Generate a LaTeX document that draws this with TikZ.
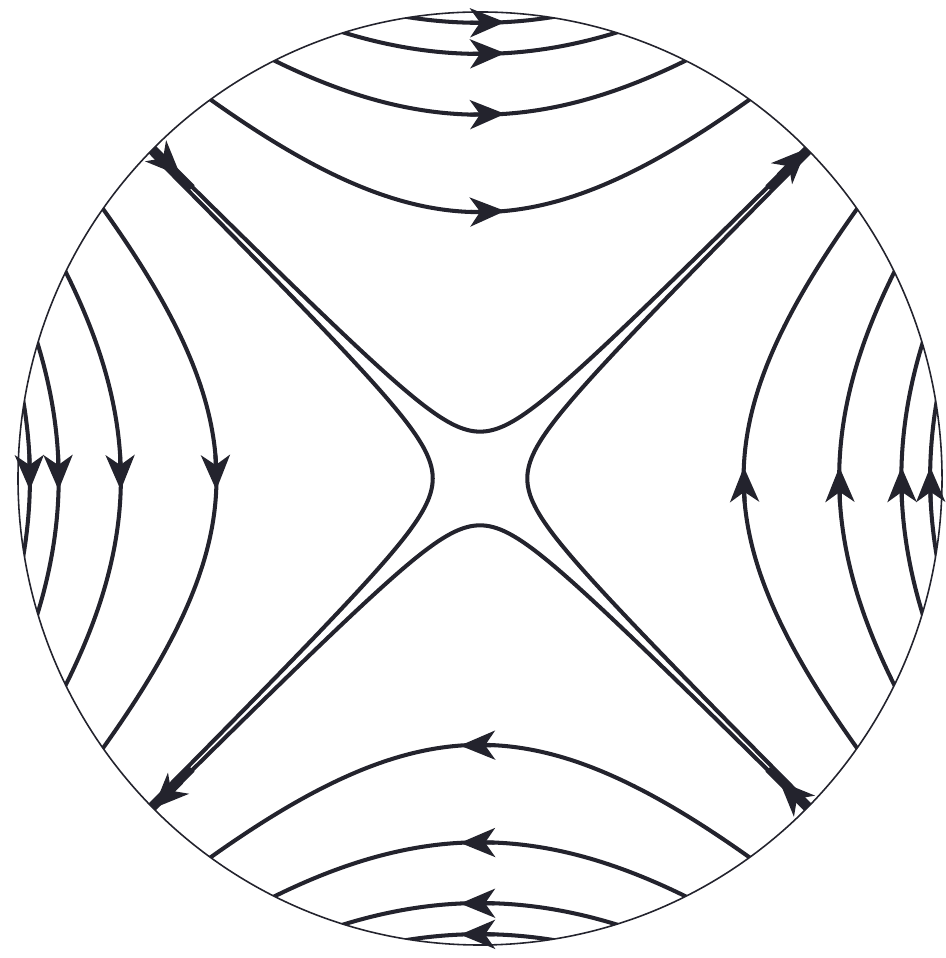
\documentclass[tikz,border=0pt]{standalone}
\usetikzlibrary{arrows.meta}
\definecolor{ink}{RGB}{35,35,45}
\begin{document}
\begin{tikzpicture}[x=4.64cm,y=4.64cm,
  flow/.style={line width=1.15pt, draw=ink, line cap=round},
  rim/.style={line width=0.45pt, draw=ink},
  arr/.style={flow, -{Stealth[length=0.35cm,width=0.29cm,inset=0.1cm]}, fill=ink},
  darr/.style={arr, line width=2pt, line cap=butt}]
\useasboundingbox (-1.0345,-1.0334) rectangle (1.0022,1.0312);
\draw[rim] (0,0) ellipse [x radius=0.9957, y radius=1.0054];
\begin{scope}
  \clip (0,0) ellipse [x radius=0.9957, y radius=1.0054];
  % top and bottom families
  \foreach \c in {0.101,0.574,0.784,0.915,0.982} {
    \pgfmathsetmacro\w{sqrt((1.07-\c*\c)/2)}
    \draw[flow] plot[domain=-\w:\w, samples=140, smooth] (\x,{sqrt(\c*\c+\x*\x)});
    \draw[flow] plot[domain=-\w:\w, samples=140, smooth] (\x,{-sqrt(\c*\c+\x*\x)});
  }
  % left and right families
  \foreach \c in {0.102,0.568,0.774,0.908,0.970} {
    \pgfmathsetmacro\w{sqrt((1.07-\c*\c)/2)}
    \draw[flow] plot[domain=-\w:\w, samples=140, smooth] ({-sqrt(\c*\c+\x*\x)},\x);
    \draw[flow] plot[domain=-\w:\w, samples=140, smooth] ({sqrt(\c*\c+\x*\x)},\x);
  }
  % thickened diagonal ends near the rim
  \draw[ink, line width=1.8pt] (-0.704,0.711) -- (-0.62,0.627);
  \draw[ink, line width=1.8pt] (0.62,0.627) -- (0.704,0.711);
  \draw[ink, line width=1.8pt] (-0.62,-0.627) -- (-0.704,-0.711);
  \draw[ink, line width=1.8pt] (0.704,-0.711) -- (0.62,-0.627);
\end{scope}
% arrows on top (rightward) and bottom (leftward) families
\foreach \c in {0.574,0.784,0.915,0.982} {
  \draw[arr] (-0.02,{sqrt(\c*\c+0.0004)}) -- (0.054,{sqrt(\c*\c+0.054*0.054)});
  \draw[arr] (0.03,{-sqrt(\c*\c+0.0009)}) -- (-0.043,{-sqrt(\c*\c+0.043*0.043)});
}
% arrows on left (downward) and right (upward) families
\foreach \c in {0.568,0.774,0.908,0.970} {
  \draw[arr] ({-sqrt(\c*\c+0.0025)},0.05) -- ({-sqrt(\c*\c+0.025*0.025)},-0.025);
  \draw[arr] ({sqrt(\c*\c+0.0025)},-0.05) -- ({sqrt(\c*\c+0.025*0.025)},0.025);
}
% arrows on the diagonals
\draw[darr] (-0.704,0.711) -- (-0.645,0.652);
\draw[darr] (0.645,0.652) -- (0.704,0.711);
\draw[darr] (-0.645,-0.652) -- (-0.704,-0.711);
\draw[darr] (0.704,-0.711) -- (0.645,-0.652);
\end{tikzpicture}
\end{document}
